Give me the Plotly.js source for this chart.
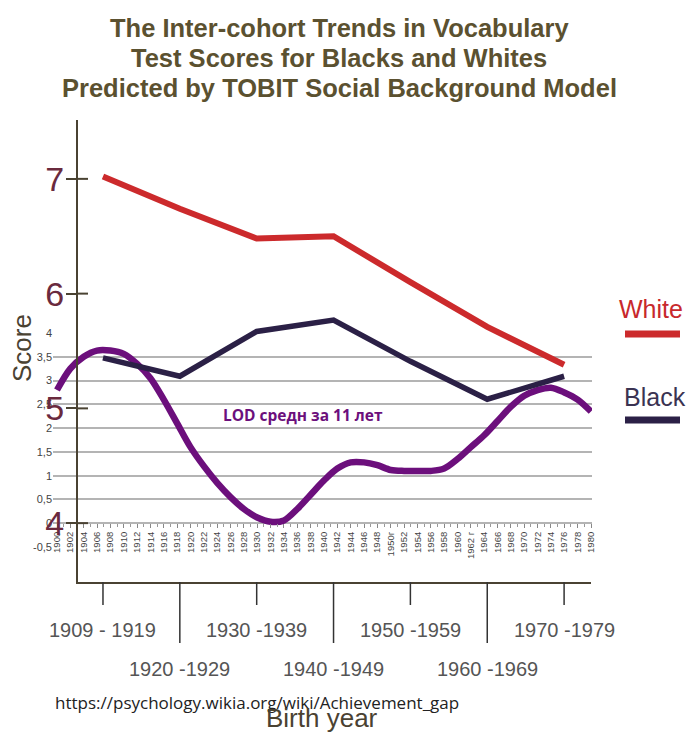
<!DOCTYPE html>
<html><head><meta charset="utf-8">
<script src="https://cdn.plot.ly/plotly-3.0.1.min.js"></script>
<style>html,body{margin:0;padding:0;background:#fff;}#chart{width:686px;height:735px;}</style>
</head><body><div id="chart"></div>
<script>
// ---- data ----
const decades = ['1909 - 1919','1920 -1929','1930 -1939','1940 -1949','1950 -1959','1960 -1969','1970 -1979'];
const decadeIndex = [0,1,2,3,4,5,6];
const whiteScores = [7.02, 6.74, 6.48, 6.50, 6.10, 5.71, 5.38];
const blackScores = [5.44, 5.28, 5.67, 5.77, 5.41, 5.08, 5.28];
const scoreTicks = [4,5,6,7];

const lodYears = [1900,1902,1904,1906,1908,1910,1912,1914,1916,1918,1920,1922,1924,1926,1928,1930,1932,1934,1936,1938,1940,1942,1944,1946,1948,1950,1952,1954,1956,1958,1960,1962,1964,1966,1968,1970,1972,1974,1976,1978,1980];
const lodValues = [2.8,3.25,3.5,3.63,3.63,3.56,3.35,3.05,2.6,2.1,1.6,1.2,0.85,0.55,0.3,0.12,0.03,0.06,0.3,0.6,0.9,1.15,1.28,1.28,1.22,1.12,1.1,1.1,1.1,1.15,1.35,1.6,1.85,2.15,2.45,2.68,2.8,2.85,2.75,2.6,2.35];
const lodTickLabels = ['1900','1902','1904','1906','1908','1910','1912','1914','1916','1918','1920','1922','1924','1926','1928','1930','1932','1934','1936','1938','1940','1942','1944','1946','1948','1950г','1952','1954','1956','1958','1960','1962 г','1964','1966','1968','1970','1972','1974','1976','1978','1980'];
const lodYTicks = [-0.5,0,0.5,1,1.5,2,2.5,3,3.5,4];
const lodYTickLabels = ['-0,5','0','0,5','1','1,5','2','2,5','3','3,5','4'];

const titleLines = ['The Inter-cohort Trends in Vocabulary','Test Scores for Blacks and Whites','Predicted by TOBIT Social Background Model'];
const legendNames = ['White','Black'];

// ---- styles ----
const W = 686, H = 735;
const px = v => v / W;
const py = v => 1 - v / H;
const RED = '#cc2a2c', NAVY = '#2b2046', PURPLE = '#6c0f7c', DARK = '#4a4232';

const traces = [
  {x: lodYears, y: lodValues, xaxis: 'x', yaxis: 'y', mode: 'lines', name: 'LOD',
   line: {color: PURPLE, width: 6.5, shape: 'spline', smoothing: 0.9}, hoverinfo: 'skip', showlegend: false},
  {x: decadeIndex, y: blackScores, xaxis: 'x2', yaxis: 'y2', mode: 'lines', name: legendNames[1],
   line: {color: NAVY, width: 5.5}, showlegend: false},
  {x: decadeIndex, y: whiteScores, xaxis: 'x2', yaxis: 'y2', mode: 'lines', name: legendNames[0],
   line: {color: RED, width: 6}, showlegend: false}
];

const shapes = [];
scoreTicks.forEach(v => shapes.push({type: 'line', xref: 'paper', yref: 'y2', x0: px(77), x1: px(88), y0: v, y1: v, line: {color: DARK, width: 2}}));
decadeIndex.forEach(i => shapes.push({type: 'line', xref: 'x2', yref: 'paper', x0: i, x1: i, y0: py(582), y1: py(i % 2 === 0 ? 605 : 643), line: {color: '#333', width: 1.5}}));
shapes.push({type: 'line', xref: 'paper', yref: 'paper', x0: px(625), x1: px(680), y0: py(334), y1: py(334), line: {color: RED, width: 7}});
shapes.push({type: 'line', xref: 'paper', yref: 'paper', x0: px(625), x1: px(680), y0: py(420), y1: py(420), line: {color: NAVY, width: 7}});

const annotations = [];
titleLines.forEach((t, i) => annotations.push({text: '<b>' + t + '</b>', xref: 'paper', yref: 'paper', x: px(339), y: py(28 + 30 * i), xanchor: 'center', yanchor: 'middle', showarrow: false, font: {family: 'Liberation Sans, Arial', size: 25.5, color: '#5b5130'}}));
decades.forEach((d, i) => annotations.push({text: d, xref: 'x2', yref: 'paper', x: i, y: py(i % 2 === 0 ? 630 : 669), xanchor: 'center', yanchor: 'middle', showarrow: false, font: {family: 'Liberation Sans, Arial', size: 20, color: '#555'}}));
annotations.push({text: 'https://psychology.wikia.org/wiki/Achievement_gap', xref: 'paper', yref: 'paper', x: px(53), y: py(702), xanchor: 'left', yanchor: 'middle', showarrow: false, font: {family: 'Open Sans', size: 17, color: '#222'}});
annotations.push({text: 'Birth year', xref: 'paper', yref: 'paper', x: px(322), y: py(718), xanchor: 'center', yanchor: 'middle', showarrow: false, font: {family: 'Liberation Sans, Arial', size: 26, color: DARK}});
annotations.push({text: 'Score', xref: 'paper', yref: 'paper', x: px(22), y: py(348), textangle: -90, xanchor: 'center', yanchor: 'middle', showarrow: false, font: {family: 'Liberation Sans, Arial', size: 26, color: DARK}});
annotations.push({text: '<b>LOD средн за 11 лет</b>', xref: 'paper', yref: 'paper', x: px(303), y: py(415), xanchor: 'center', yanchor: 'middle', showarrow: false, font: {family: 'Open Sans', size: 15.5, color: PURPLE}});
annotations.push({text: legendNames[0], xref: 'paper', yref: 'paper', x: px(651), y: py(309), xanchor: 'center', yanchor: 'middle', showarrow: false, font: {family: 'Liberation Sans, Arial', size: 25, color: '#c8282c'}});
annotations.push({text: legendNames[1], xref: 'paper', yref: 'paper', x: px(655), y: py(397), xanchor: 'center', yanchor: 'middle', showarrow: false, font: {family: 'Liberation Sans, Arial', size: 25, color: '#3a3352'}});

const layout = {
  width: W, height: H,
  margin: {l: 0, r: 0, t: 0, b: 0},
  paper_bgcolor: '#fff', plot_bgcolor: 'rgba(0,0,0,0)',
  showlegend: false,
  // LOD chart
  xaxis: {domain: [px(53), px(592)], range: [1899.4, 1980.15], anchor: 'free', position: py(523),
          showgrid: false, zeroline: false, showline: false,
          tickmode: 'array', tickvals: lodYears, ticktext: lodTickLabels, tickangle: -90,
          ticks: 'outside', ticklen: 4, tickcolor: '#888', tickwidth: 1,
          minor: {dtick: 1, tick0: 1900, ticks: 'outside', ticklen: 3, tickcolor: '#999', showgrid: false},
          tickfont: {family: 'Liberation Sans, Arial', size: 9.5, color: '#444'}},
  yaxis: {domain: [py(548), py(332)], range: [-0.52, 4.02], anchor: 'x',
          showgrid: true, gridcolor: '#b4b4b4', gridwidth: 2, zeroline: false, showline: false,
          tickmode: 'array', tickvals: lodYTicks, ticktext: lodYTickLabels, ticks: '',
          tickfont: {family: 'Liberation Sans Narrow, Liberation Sans, Arial', size: 11, color: '#444'}},
  // main chart
  xaxis2: {domain: [px(78), px(591)], range: [-0.325, 6.35], anchor: 'y2',
           showgrid: false, zeroline: false, showline: true, linecolor: DARK, linewidth: 2,
           showticklabels: false, ticks: ''},
  yaxis2: {domain: [py(582), py(120)], range: [3.487, 7.513], anchor: 'x2',
           showgrid: false, zeroline: false, showline: true, linecolor: DARK, linewidth: 2,
           tickmode: 'array', tickvals: scoreTicks, ticks: 'outside', ticklen: 10, tickwidth: 2, tickcolor: DARK,
           ticklabelstandoff: -5,
           tickfont: {family: 'Liberation Sans, Arial', size: 34, color: '#6a2a3e'}},
  shapes: shapes,
  annotations: annotations
};

Plotly.newPlot('chart', traces, layout, {displayModeBar: false, staticPlot: true});
</script>
</body></html>
